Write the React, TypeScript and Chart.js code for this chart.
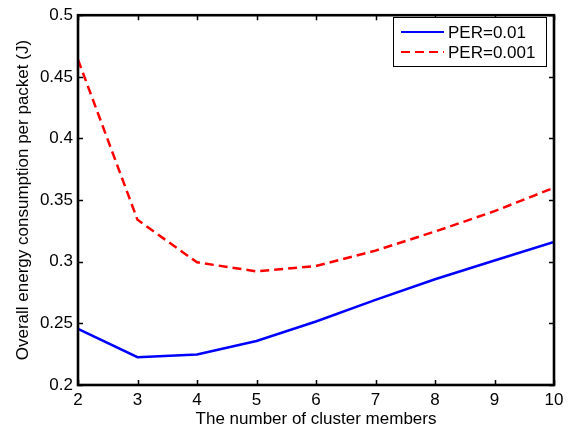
import React, { useEffect, useRef } from "react";
import { Chart, registerables } from "chart.js";

Chart.register(...registerables);

const clusterMembers = [2, 3, 4, 5, 6, 7, 8, 9, 10];
const per001 = [0.2455, 0.2226, 0.2248, 0.2357, 0.2515, 0.2690, 0.2858, 0.3010, 0.3160];
const per0001 = [0.4640, 0.3340, 0.2995, 0.2922, 0.2965, 0.3090, 0.3245, 0.3410, 0.3600];
const seriesLabels = ["PER=0.01", "PER=0.001"];
const xTitle = "The number of cluster members";
const yTitle = "Overall energy consumption per packet (J)";

const FONT = "'Liberation Sans', Arial, Helvetica, sans-serif";

const boxPlugin = {
  id: "matlabBox",
  afterDraw(chart: any) {
    const { ctx, chartArea } = chart;
    const { left, right, top, bottom } = chartArea;
    const xs = chart.scales.x;
    const ys = chart.scales.y;
    ctx.save();
    ctx.strokeStyle = "#000";
    ctx.lineWidth = 1.5;
    const tl = 5;
    ctx.beginPath();
    xs.ticks.forEach((t: any) => {
      const px = Math.round(xs.getPixelForValue(t.value)) + 0.5;
      ctx.moveTo(px, bottom);
      ctx.lineTo(px, bottom - tl);
      ctx.moveTo(px, top);
      ctx.lineTo(px, top + tl);
    });
    ys.ticks.forEach((t: any) => {
      const py = Math.round(ys.getPixelForValue(t.value)) + 0.5;
      ctx.moveTo(left, py);
      ctx.lineTo(left + tl, py);
      ctx.moveTo(right, py);
      ctx.lineTo(right - tl, py);
    });
    ctx.stroke();
    ctx.lineWidth = 2.6;
    ctx.strokeRect(left, top, right - left, bottom - top);

    // legend
    const lx = 393, ly = 17, lw = 153, lh = 49;
    ctx.fillStyle = "#fff";
    ctx.fillRect(lx, ly, lw, lh);
    ctx.lineWidth = 1;
    ctx.strokeStyle = "#000";
    ctx.strokeRect(lx + 0.5, ly + 0.5, lw, lh);
    ctx.font = "17px " + FONT;
    ctx.textBaseline = "middle";
    ctx.textAlign = "left";
    chart.data.datasets.forEach((ds: any, i: number) => {
      const y = ly + 15 + i * 20;
      ctx.beginPath();
      ctx.strokeStyle = ds.borderColor;
      ctx.lineWidth = 2.2;
      ctx.setLineDash(ds.borderDash || []);
      ctx.moveTo(lx + 8, y);
      ctx.lineTo(lx + 51, y);
      ctx.stroke();
      ctx.setLineDash([]);
      ctx.fillStyle = "#000";
      ctx.fillText(ds.label, lx + 55, y + 1);
    });
    ctx.restore();
  },
};

export default function App() {
  const ref = useRef<HTMLCanvasElement>(null);
  useEffect(() => {
    if (!ref.current) return;
    const chart = new Chart(ref.current, {
      type: "line",
      data: {
        datasets: [
          {
            label: seriesLabels[0],
            data: clusterMembers.map((x, i) => ({ x, y: per001[i] })),
            borderColor: "#0000ff",
            borderWidth: 2.5,
            pointRadius: 0,
            fill: false,
            tension: 0,
          },
          {
            label: seriesLabels[1],
            data: clusterMembers.map((x, i) => ({ x, y: per0001[i] })),
            borderColor: "#ff0000",
            borderWidth: 2.5,
            borderDash: [9, 5],
            pointRadius: 0,
            fill: false,
            tension: 0,
          },
        ],
      },
      plugins: [boxPlugin],
      options: {
        animation: false,
        responsive: false,
        maintainAspectRatio: false,
        layout: { padding: { top: 10, right: 18, left: 0, bottom: 0 } },
        plugins: { legend: { display: false }, tooltip: { enabled: false } },
        scales: {
          x: {
            type: "linear",
            min: 2,
            max: 10,
            afterFit: (s: any) => { s.height = 47; },
            ticks: { stepSize: 1, color: "#000", font: { family: FONT, size: 17 }, padding: 5, maxRotation: 0 },
            grid: { display: false, drawTicks: false },
            border: { display: false },
            title: { display: true, text: xTitle, color: "#000", font: { family: FONT, size: 17 }, padding: { top: 0, bottom: 2 } },
          },
          y: {
            type: "linear",
            min: 0.2,
            max: 0.5,
            afterFit: (s: any) => { s.width = 78; },
            ticks: {
              stepSize: 0.05,
              color: "#000",
              font: { family: FONT, size: 17 },
              padding: 5,
              callback: (v: any) => String(Number(Number(v).toFixed(2))),
            },
            grid: { display: false, drawTicks: false },
            border: { display: false },
            title: { display: true, text: yTitle, color: "#000", font: { family: FONT, size: 17 }, padding: { top: 13, bottom: 0 } },
          },
        },
      },
    });
    return () => chart.destroy();
  }, []);
  return (
    <div style={{ position: "fixed", left: 0, top: 0, width: 572, height: 432, background: "#fff" }}>
      <canvas ref={ref} width={572} height={432} style={{ width: 572, height: 432, display: "block" }} />
    </div>
  );
}
